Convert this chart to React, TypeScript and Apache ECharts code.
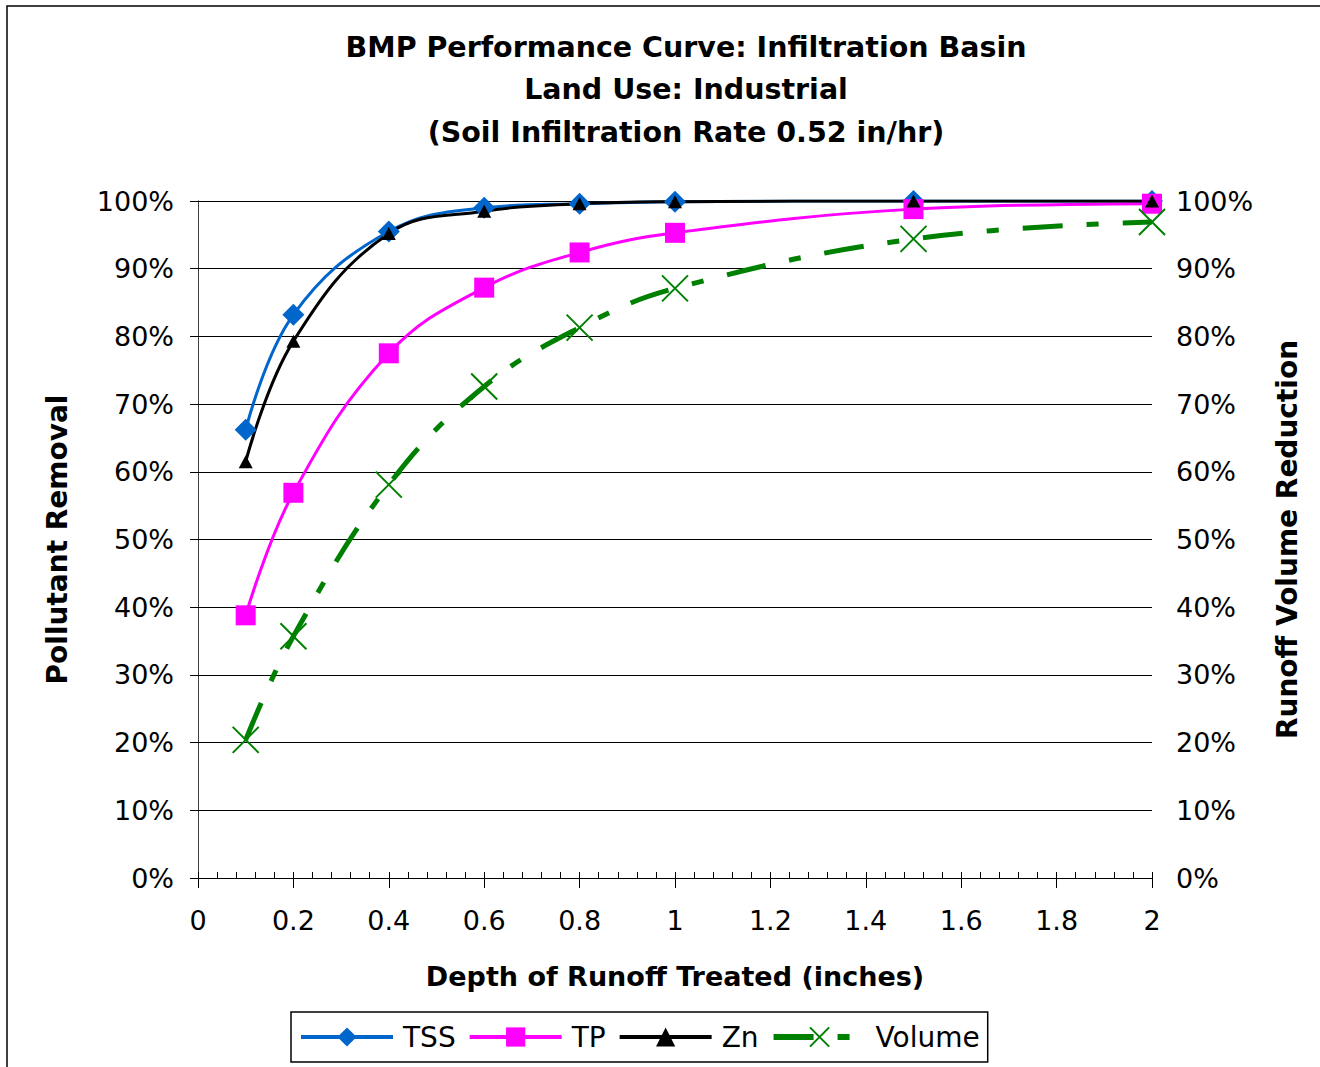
import React, { useEffect, useRef } from "react";
import * as echarts from "echarts";

const xValues = [0.1, 0.2, 0.4, 0.6, 0.8, 1, 1.5, 2];
const tss = [66.2, 83.2, 95.5, 99.0, 99.6, 99.9, 100, 100];
const tp = [38.8, 56.9, 77.5, 87.2, 92.4, 95.3, 98.8, 99.6];
const zn = [61.5, 79.3, 95.2, 98.5, 99.6, 99.9, 100, 100];
const volume = [20.4, 35.7, 58.1, 72.6, 81.3, 87.1, 94.4, 96.9];

const titleLines = [
  "BMP Performance Curve: Infiltration Basin",
  "Land Use: Industrial",
  "(Soil Infiltration Rate 0.52 in/hr)",
];

const FONT = "'DejaVu Sans', 'Liberation Sans', Arial, sans-serif";

const pairs = (ys: number[]) => xValues.map((x, i) => [x, ys[i]]);

export default function App() {
  const ref = useRef<HTMLDivElement>(null);
  useEffect(() => {
    if (!ref.current) return;
    const chart = echarts.init(ref.current, undefined, { renderer: "svg" });
    const pctLabel = {
      formatter: "{value}%",
      fontSize: 27,
      color: "#000",
      fontFamily: FONT,
      margin: 24,
    };
    const nameStyle = { fontSize: 28, fontWeight: "bold", color: "#000", fontFamily: FONT };
    chart.setOption({
      animation: false,
      backgroundColor: "#fff",
      textStyle: { fontFamily: FONT },
      title: {
        text: titleLines.join("\n"),
        left: 681,
        textAlign: "center",
        top: 21,
        textStyle: {
          fontSize: 28.5,
          fontWeight: "bold",
          color: "#000",
          lineHeight: 42.5,
          fontFamily: FONT,
        },
      },
      graphic: [
        {
          type: "rect",
          shape: { x: 7, y: 6, width: 1400, height: 1200 },
          style: { fill: "none", stroke: "#000", lineWidth: 1.5 },
          silent: true,
          z: -1,
        },
      ],
      legend: {
        left: 291,
        top: 1012,
        orient: "horizontal",
        itemWidth: 92,
        itemHeight: 24,
        itemGap: 12,
        padding: [11, 8, 11, 8],
        borderColor: "#000",
        borderWidth: 1.5,
        textStyle: { fontSize: 28, color: "#000", fontFamily: FONT, padding: [0, 0, 0, 5] },
        data: [
          { name: "TSS", lineStyle: { width: 4 } },
          { name: "TP", lineStyle: { width: 4 } },
          { name: "Zn", lineStyle: { width: 4 } },
          { name: "Volume", lineStyle: { width: 6 } },
        ],
      },
      grid: { left: 198, right: 168, top: 201, bottom: 189, containLabel: false },
      xAxis: [
        {
          type: "value",
          min: 0,
          max: 2,
          interval: 0.2,
          name: "Depth of Runoff Treated (inches)",
          nameLocation: "middle",
          nameGap: 85,
          nameTextStyle: { ...nameStyle, fontSize: 27 },
          axisLine: { show: true, onZero: false, lineStyle: { color: "#000", width: 1 } },
          axisTick: { show: true, inside: false, length: 10, lineStyle: { color: "#000" } },
          axisLabel: {
            fontSize: 27,
            color: "#000",
            fontFamily: FONT,
            margin: 29,
            formatter: (v: number) => String(Math.round(v * 10) / 10),
          },
          splitLine: { show: false },
        },
        {
          type: "value",
          min: 0,
          max: 2,
          interval: 0.04,
          position: "bottom",
          offset: 0,
          axisLine: { show: false },
          axisTick: { show: true, inside: true, length: 6, lineStyle: { color: "#000" } },
          axisLabel: { show: false },
          splitLine: { show: false },
        },
      ],
      yAxis: [
        {
          type: "value",
          min: 0,
          max: 100,
          interval: 10,
          position: "left",
          name: "Pollutant Removal",
          nameLocation: "middle",
          nameRotate: 90,
          nameGap: 127,
          nameTextStyle: nameStyle,
          axisLine: { show: true, lineStyle: { color: "#404040", width: 1 } },
          axisTick: { show: true, inside: false, length: 8, lineStyle: { color: "#000" } },
          axisLabel: pctLabel,
          splitLine: { show: true, lineStyle: { color: "#000", width: 1 } },
        },
        {
          type: "value",
          min: 0,
          max: 100,
          interval: 10,
          position: "right",
          name: "Runoff Volume Reduction",
          nameLocation: "middle",
          nameRotate: 90,
          nameGap: 121,
          nameTextStyle: nameStyle,
          axisLine: { show: true, lineStyle: { color: "#404040", width: 1 } },
          axisTick: { show: true, inside: false, length: 10, lineStyle: { color: "#000" } },
          axisLabel: pctLabel,
          splitLine: { show: false },
        },
      ],
      series: [
        {
          name: "TSS",
          type: "line",
          yAxisIndex: 0,
          data: pairs(tss),
          smooth: 0.4,
          symbol: "diamond",
          symbolSize: 22,
          lineStyle: { color: "#0066CC", width: 3 },
          itemStyle: { color: "#0066CC" },
        },
        {
          name: "TP",
          type: "line",
          yAxisIndex: 0,
          data: pairs(tp),
          smooth: 0.4,
          symbol: "rect",
          symbolSize: 20,
          lineStyle: { color: "#FF00FF", width: 3 },
          itemStyle: { color: "#FF00FF" },
        },
        {
          name: "Zn",
          type: "line",
          yAxisIndex: 0,
          data: pairs(zn),
          smooth: 0.4,
          symbol: "triangle",
          symbolSize: [14, 13],
          lineStyle: { color: "#000", width: 3 },
          itemStyle: { color: "#000" },
        },
        {
          name: "Volume",
          type: "line",
          yAxisIndex: 1,
          data: pairs(volume),
          smooth: 0.4,
          symbol: "path://M0,0L20,20M20,0L0,20",
          symbolSize: 26,
          lineStyle: { color: "#008000", width: 5, type: [40, 24, 12, 24] },
          itemStyle: { color: "#008000", borderColor: "#008000", borderWidth: 2 },
        },
      ],
    });
    return () => chart.dispose();
  }, []);
  return (
    <div
      ref={ref}
      style={{ position: "absolute", left: 0, top: 0, width: 1320, height: 1067 }}
    />
  );
}
